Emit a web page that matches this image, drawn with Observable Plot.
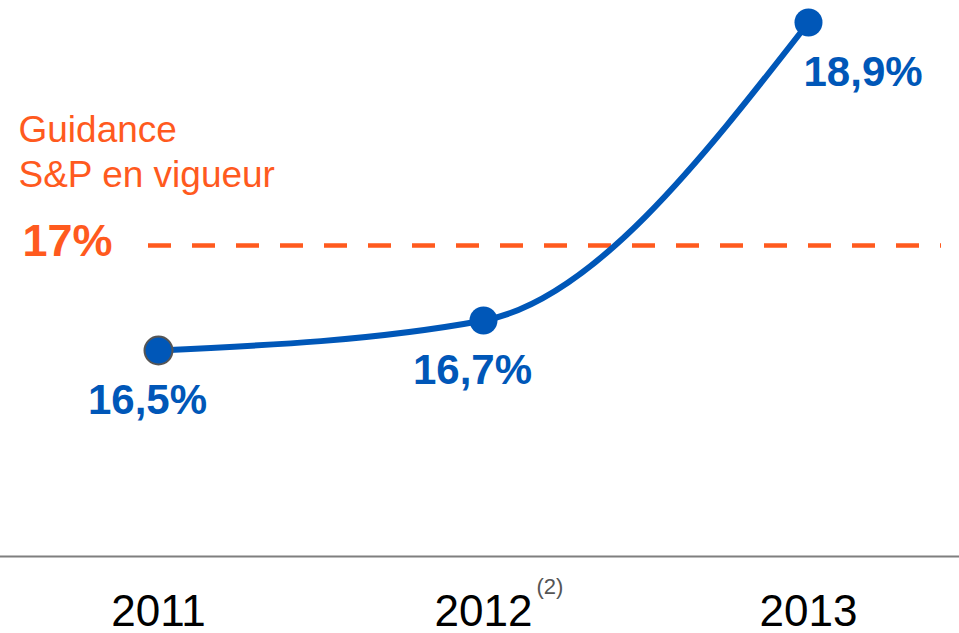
<!DOCTYPE html>
<html>
<head>
<meta charset="utf-8">
<script src="https://cdn.jsdelivr.net/npm/d3@7"></script>
<script src="https://cdn.jsdelivr.net/npm/@observablehq/plot@0.6"></script>
<style>
  html, body { margin: 0; padding: 0; background: #fff; }
  #chart svg { display: block; }
</style>
</head>
<body>
<div id="chart"></div>
<script>
const years = [2011, 2012, 2013];
const yearLabels = ["2011", "2012", "2013"];
const yearNotes = ["", "(2)", ""];
const values = [16.5, 16.7, 18.9];
const valueLabels = ["16,5%", "16,7%", "18,9%"];
const guidanceValue = 17;
const guidanceLabel = "17%";
const guidanceText = "Guidance\nS&P en vigueur";

const BLUE = "#0057B8";
const ORANGE = "#FF5A1E";
const FONT = "'Liberation Sans', Arial, Helvetica, sans-serif";

const data = years.map((y, i) => ({year: y, value: values[i], label: valueLabels[i], note: yearNotes[i]}));

// The original chart uses a non-uniform (piecewise) vertical scale.
const piecewise = d3.scaleLinear().domain([16.5, 16.7, 17, 18.9]).range([0, 30, 105, 328]);

const chart = Plot.plot({
  width: 959,
  height: 633,
  marginTop: 0,
  marginRight: 0,
  marginBottom: 77,
  marginLeft: 0,
  style: {fontFamily: FONT, background: "#fff", overflow: "visible"},
  x: {domain: [2011, 2013], range: [158, 808], axis: null},
  y: {transform: piecewise, domain: [0, 328], range: [350, 22], axis: null},
  marks: [
    Plot.frame({anchor: "bottom", stroke: "#7f7f7f", strokeWidth: 2}),
    Plot.axisX(years, {
      tickSize: 0,
      tickPadding: 38,
      fontSize: 44,
      fill: "#000",
      tickFormat: (d) => yearLabels[years.indexOf(d)],
      label: null
    }),
    Plot.text(data.filter(d => d.note), {
      x: "year", frameAnchor: "bottom", text: "note",
      textAnchor: "start", lineAnchor: "top", dx: 53, dy: 22,
      fontSize: 22, fill: "#555"
    }),
    Plot.ruleY([guidanceValue], {
      stroke: ORANGE, strokeWidth: 4.5, strokeDasharray: "23,21", insetLeft: 148, insetRight: 18
    }),
    Plot.text([guidanceValue], {
      y: d => d, frameAnchor: "left", text: () => guidanceLabel,
      textAnchor: "start", dx: 22, dy: -4, fontSize: 45, fontWeight: "bold", fill: ORANGE
    }),
    Plot.text([guidanceText], {
      frameAnchor: "top-left", text: d => d, textAnchor: "start", lineAnchor: "top",
      dx: 18, dy: 109, fontSize: 37, lineHeight: 1.22, fill: ORANGE
    }),
    Plot.line(data, {x: "year", y: "value", curve: "monotone-x", stroke: BLUE, strokeWidth: 6}),
    Plot.dot(data, {
      x: "year", y: "value", r: 14, fill: BLUE,
      stroke: (d, i) => i === 0 ? "#555" : "none", strokeWidth: 2
    }),
    Plot.text(data.slice(0, 2), {
      x: "year", y: "value", text: "label", textAnchor: "middle",
      dx: -11, dy: 50, fontSize: 42, fontWeight: "bold", fill: BLUE
    }),
    Plot.text(data.slice(2), {
      x: "year", y: "value", text: "label", textAnchor: "start",
      dx: -5, dy: 50, fontSize: 42, fontWeight: "bold", fill: BLUE
    })
  ]
});

document.getElementById("chart").appendChild(chart);
</script>
</body>
</html>
